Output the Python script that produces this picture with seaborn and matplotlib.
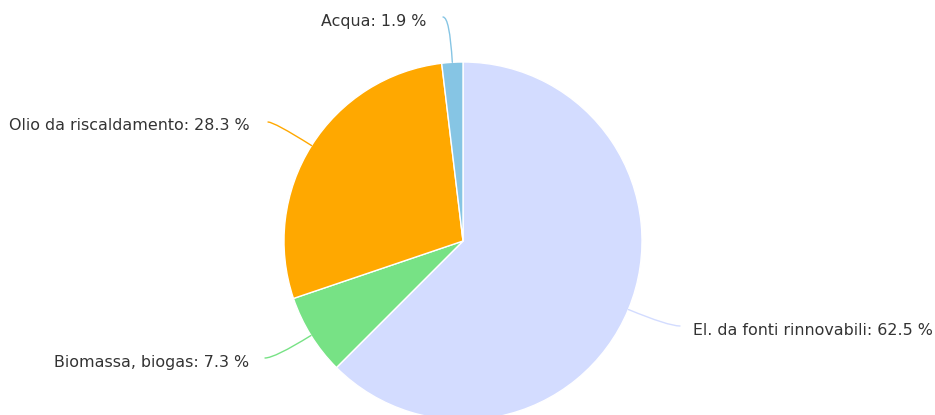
import numpy as np
import matplotlib
matplotlib.use("Agg")
import matplotlib.pyplot as plt
import seaborn as sns

# Data (clockwise from 12 o'clock)
categories = ["El. da fonti rinnovabili", "Biomassa, biogas", "Olio da riscaldamento", "Acqua"]
shares = [62.5, 7.3, 28.3, 1.9]
colors = ["#d3dcff", "#77e285", "#ffa800", "#86c5e4"]

# label layout in pixels: (connector end x, y), (text x, baseline y), alignment
W, H = 935, 415
CX, CY, R = 463, 241, 179
label_layout = {
    "El. da fonti rinnovabili": ((680, 326), (693, 335), "left"),
    "Biomassa, biogas": ((265, 358), (249, 367), "right"),
    "Olio da riscaldamento": ((268, 122), (250, 130), "right"),
    "Acqua": ((443, 17), (426, 26), "right"),
}


def px(x, y):
    # pixel position -> data coordinates (pie radius = 1)
    return (x - CX) / R, (CY - y) / R


sns.set_theme(style="white")
plt.rcParams['font.family'] = ['DejaVu Sans']

fig = plt.figure(figsize=(W / 100, H / 100), dpi=100)
ax = fig.add_axes([0, 0, 1, 1])

wedges, _ = ax.pie(shares, colors=colors, startangle=90, counterclock=False,
                   radius=1, wedgeprops=dict(edgecolor="white", linewidth=1))

ax.set_xlim(px(0, 0)[0], px(W, 0)[0])
ax.set_ylim(px(0, H)[1], px(0, 0)[1])
ax.set_aspect("equal")
ax.axis("off")

for w, name, val, col in zip(wedges, categories, shares, colors):
    theta = (w.theta1 + w.theta2) / 2
    edge = (np.cos(np.radians(theta)), np.sin(np.radians(theta)))
    (ex, ey), (tx, ty), ha = label_layout[name]
    ax.annotate("", xy=edge, xytext=px(ex, ey),
                arrowprops=dict(arrowstyle="-", color=col, lw=1,
                                shrinkA=0, shrinkB=0,
                                connectionstyle=f"angle3,angleA=0,angleB={theta}"))
    ax.text(*px(tx, ty), f"{name}: {val} %", ha=ha, va="baseline",
            fontsize=11.45, color="#333333")

fig.savefig("out.png", dpi=100)
